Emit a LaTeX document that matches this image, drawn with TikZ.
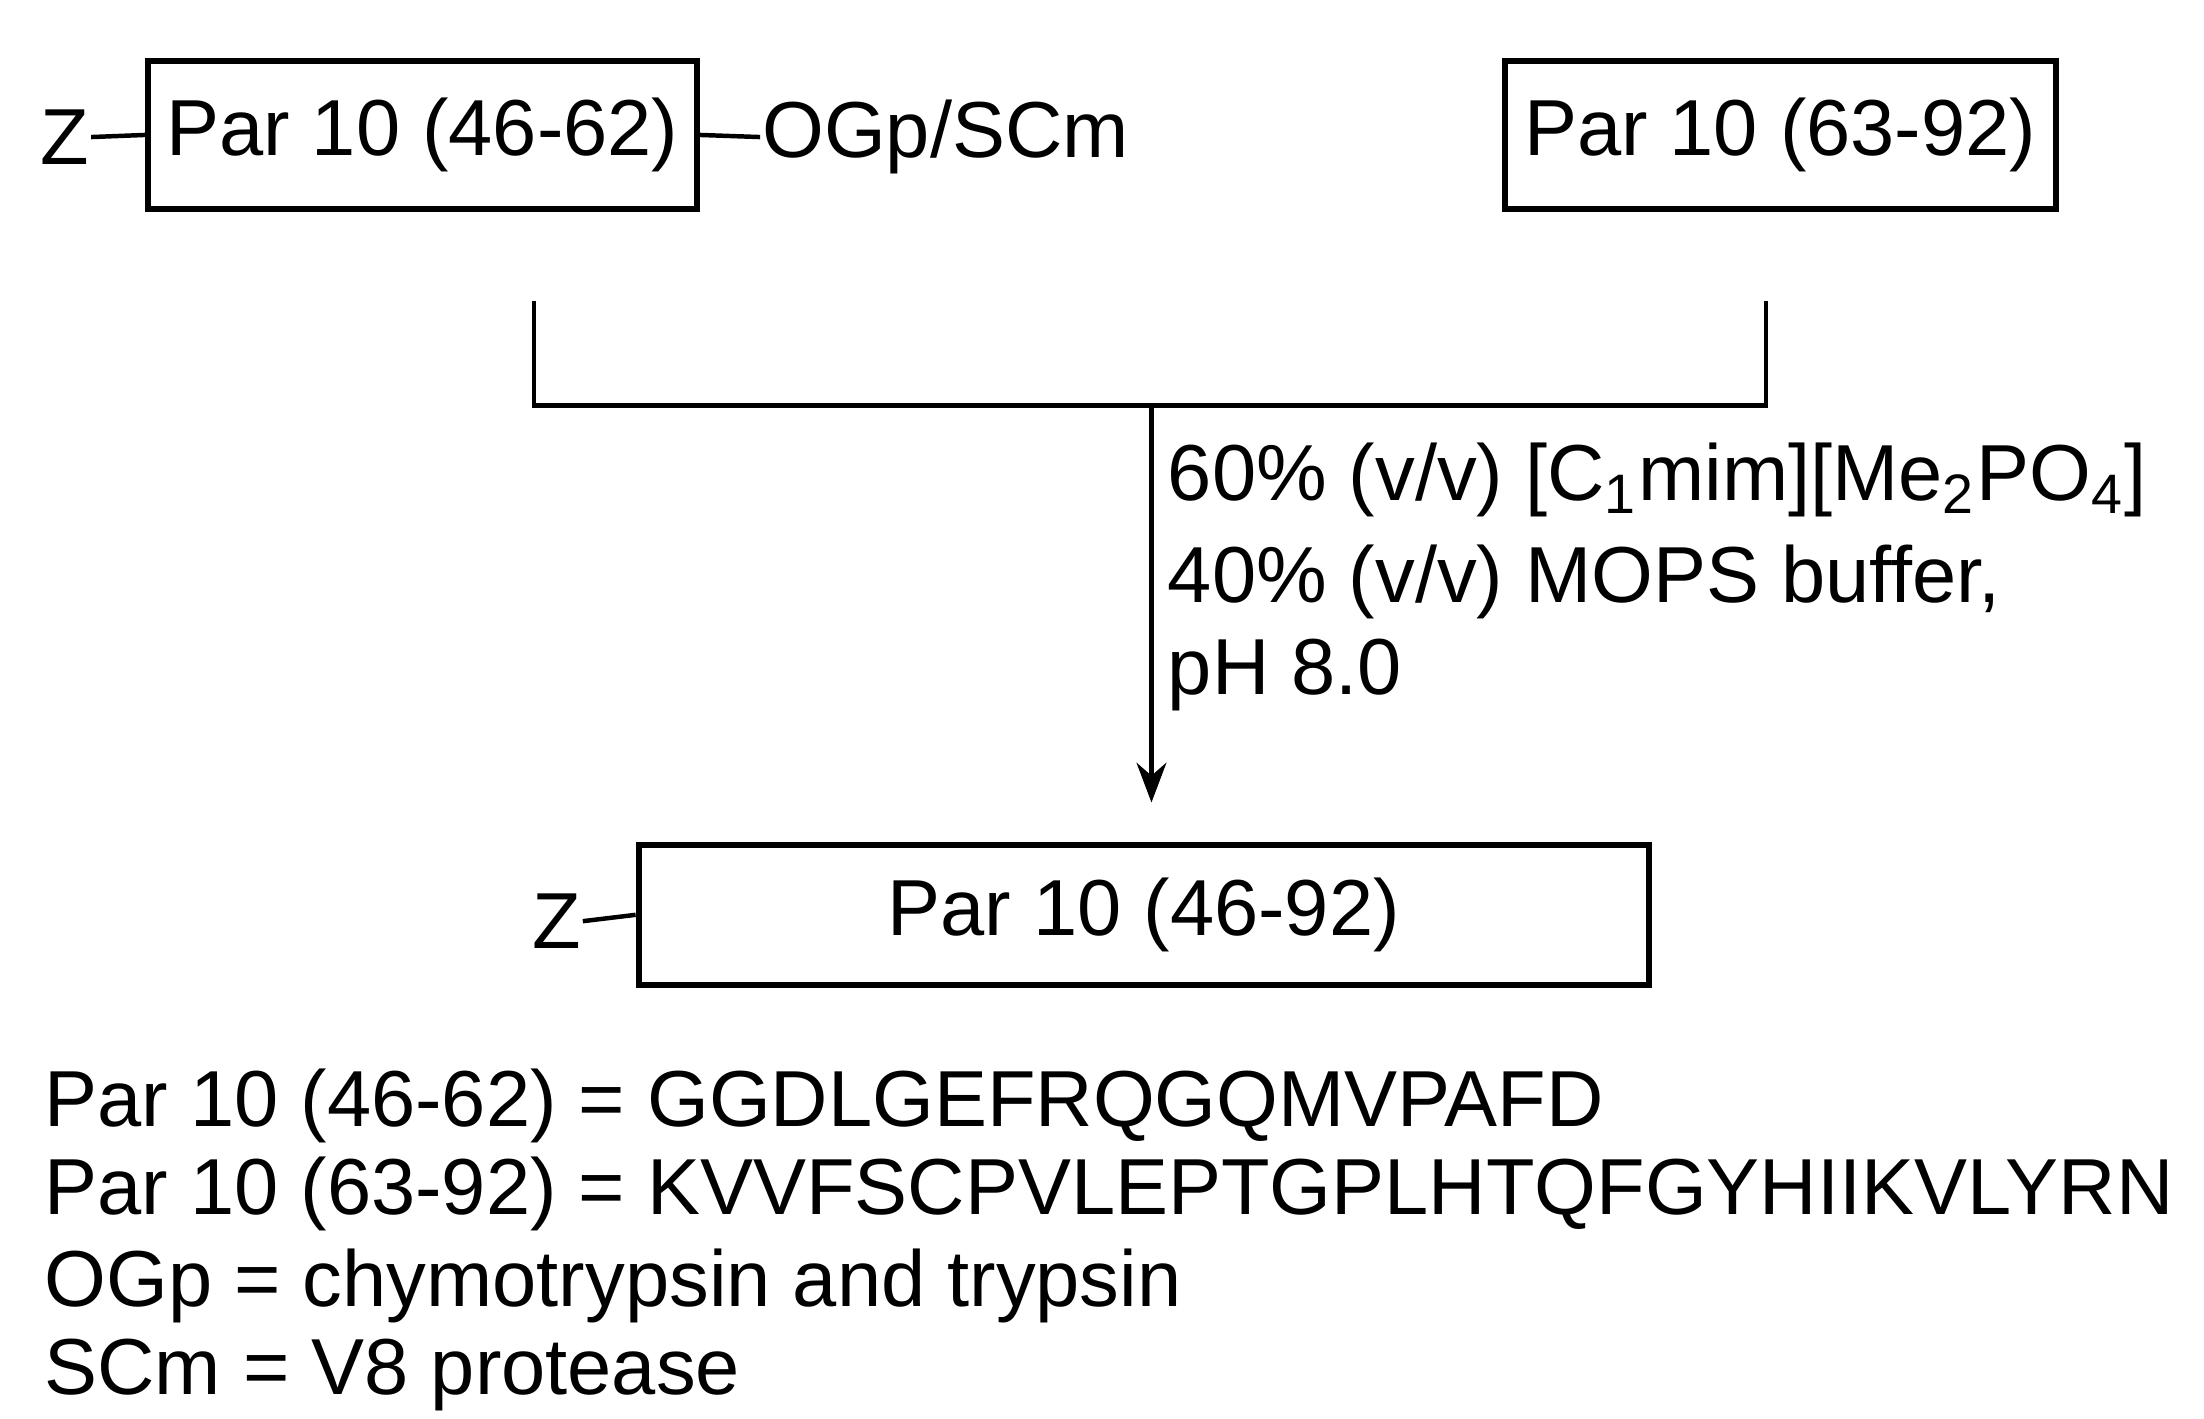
\documentclass[tikz,border=0pt]{standalone}
\usepackage{fontspec}
\setmainfont{Liberation Sans}
\usetikzlibrary{positioning,arrows.meta}
\tikzset{
	pepbox/.style={draw, line width=1.2pt, minimum height=1.05cm, inner sep=0pt},
	lbl/.style={inner sep=0pt, anchor=west},
	every node/.style={font=\fontsize{16}{19}\selectfont},
}
\begin{document}
\begin{tikzpicture}[line width=0.9pt]
	\useasboundingbox (0,0) rectangle (15.6,-10.04);
	% starting fragments
	\node[pepbox, minimum width=3.88cm] (frag1) at (2.99,-0.955) {Par 10 (46-62)};
	\node[pepbox, minimum width=3.90cm] (frag2) at (12.6,-0.955) {Par 10 (63-92)};
	\node[lbl] (zA) at (0.27,-0.97) {Z};
	\node[lbl] (ester) at (5.38,-0.97) {OGp/SCm};
	\draw (zA.east) -- (frag1.west);
	\draw (frag1.east) -- (ester.west);
	% bracket
	\coordinate (bl) at (3.78,-2.13);
	\coordinate (br) at (12.5,-2.13);
	\coordinate (join) at (8.15,-2.87);
	\draw (bl) |- (join) -| (br);
	% product
	\node[pepbox, minimum width=7.15cm, minimum height=0.99cm] (prod) at (8.095,-6.475) {Par 10 (46-92)};
	\node[lbl] (zB) at (3.75,-6.52) {Z};
	\draw (zB.east) -- (prod.west);
	\draw[-{Stealth[length=8pt,width=6pt]}] (join) -- (8.15,-5.68);
	% conditions
	\node[lbl] (cond1) at (8.25,-3.4) {60\% (v/v) [C\textsubscript{1}mim][Me\textsubscript{2}PO\textsubscript{4}]};
	\node[lbl] (cond2) at (8.25,-4.12) {40\% (v/v) MOPS buffer,};
	\node[lbl] (cond3) at (8.25,-4.78) {pH 8.0};
	% legend
	\node[lbl] (leg1) at (0.3,-7.83) {Par 10 (46-62) = GGDLGEFRQGQMVPAFD};
	\node[lbl] (leg2) at (0.3,-8.45) {Par 10 (63-92) = KVVFSCPVLEPTGPLHTQFGYHIIKVLYRN};
	\node[lbl] (leg3) at (0.3,-9.1) {OGp = chymotrypsin and trypsin};
	\node[lbl] (leg4) at (0.3,-9.73) {SCm = V8 protease};
\end{tikzpicture}
\end{document}
